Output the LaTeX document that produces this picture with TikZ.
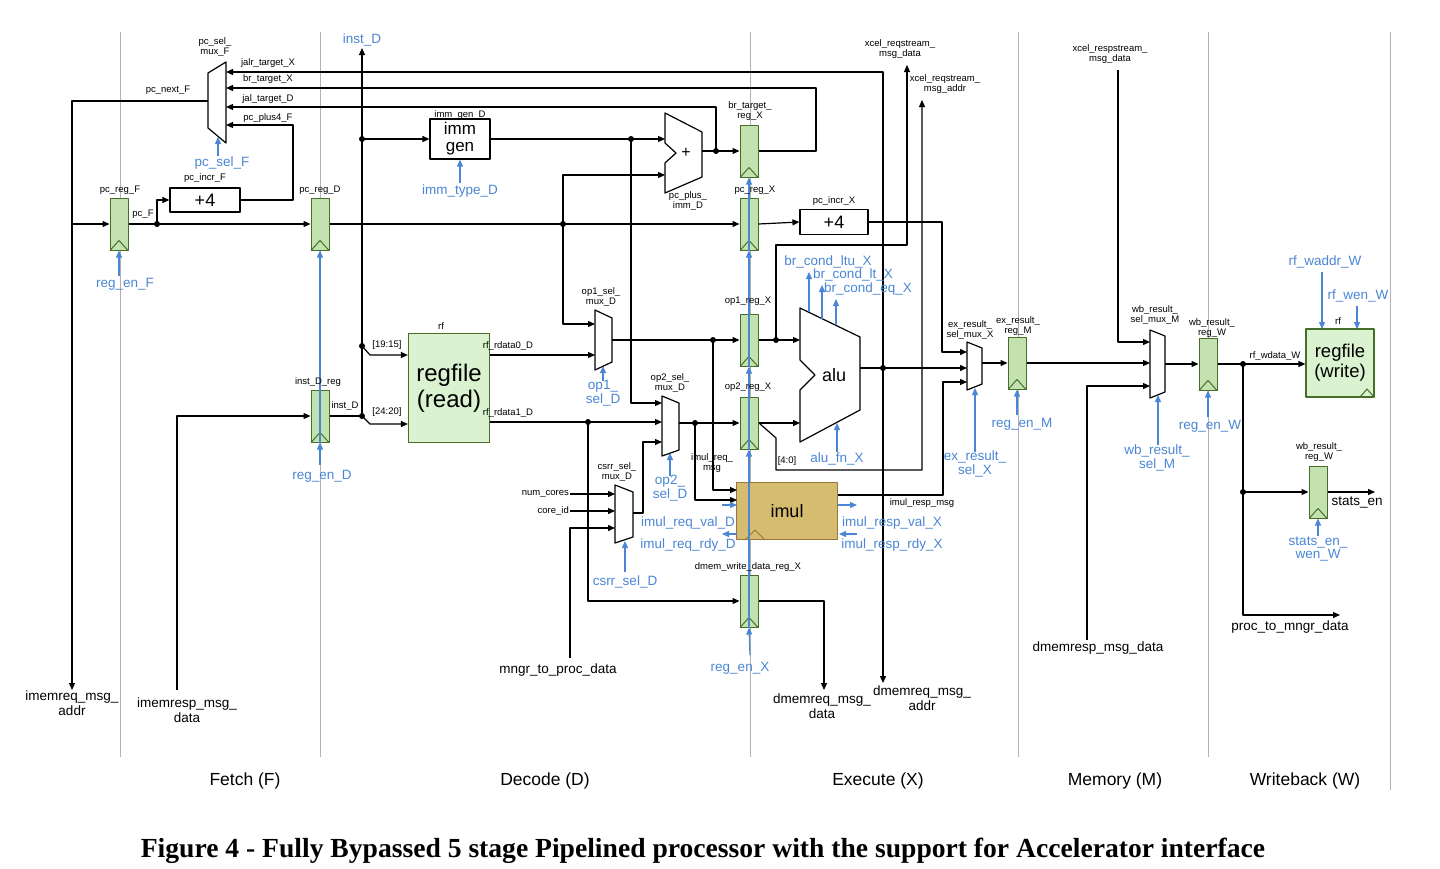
\documentclass[tikz,border=0pt]{standalone}
\usepackage{fontspec}
\setmainfont{Liberation Sans}
\newfontfamily\capfont{Liberation Serif}
\usetikzlibrary{arrows.meta,calc}
\definecolor{bl}{RGB}{74,134,212}
\definecolor{regf}{RGB}{196,226,176}
\definecolor{regd}{RGB}{70,110,40}
\definecolor{rff}{RGB}{218,242,208}
\definecolor{imf}{RGB}{214,188,112}
\definecolor{imd}{RGB}{150,120,60}
\newcommand\clk[1]{\draw[regd,line width=1pt] ([xshift=-9pt]#1.south) -- ([yshift=10pt]#1.south) -- ([xshift=9pt]#1.south);}
\begin{document}
\begin{tikzpicture}[x=1pt,y=-1pt,line join=round]
\tikzset{
 wire/.style={line width=1.2pt},
 wa/.style={wire,-{Triangle[length=7pt,width=6pt]}},
 ctl/.style={bl,line width=1.2pt,-{Triangle[length=7pt,width=6pt]}},
 regbox/.style={draw=regd,fill=regf,line width=1pt,minimum width=18pt,minimum height=52pt,inner sep=0},
 sl/.style={font=\fontsize{9.5}{10}\selectfont,align=center,inner sep=1pt},
 ml/.style={font=\fontsize{13.5}{15}\selectfont,align=center,inner sep=1pt},
 bll/.style={text=bl,font=\fontsize{13.5}{13.5}\selectfont,align=center,inner sep=1pt},
 dot/.style={circle,fill,inner sep=0,minimum size=6pt},
 stage/.style={black!30,line width=0.8pt},
 mux/.style={wire,fill=white},
 boxn/.style={draw,line width=1.2pt,inner sep=0,align=center},
}
\useasboundingbox (0,0) rectangle (1440,868);
% stage lines
\foreach \x in {120,320,750,1018,1208}{\draw[stage] (\x,32) -- (\x,757);}
\draw[stage] (1390,32) -- (1390,790);
\node[font=\fontsize{17.5}{19}\selectfont] at (245,781) {Fetch (F)};
\node[font=\fontsize{17.5}{19}\selectfont] at (545,781) {Decode (D)};
\node[font=\fontsize{17.5}{19}\selectfont] at (878,781) {Execute (X)};
\node[font=\fontsize{17.5}{19}\selectfont] at (1115,781) {Memory (M)};
\node[font=\fontsize{17.5}{19}\selectfont] at (1305,781) {Writeback (W)};
\node[font=\capfont\bfseries\fontsize{27.6}{30}\selectfont] at (703,851) {Figure 4 - Fully Bypassed 5 stage Pipelined processor with the support for Accelerator interface};

% boxes
\node[boxn,minimum width=70pt,minimum height=24pt,font=\fontsize{18}{18}\selectfont] (pcincF) at (205,200) {+4};
\node[boxn,minimum width=60pt,minimum height=40pt,font=\fontsize{17}{17}\selectfont] (immgen) at (460,139) {imm\\gen};
\node[boxn,minimum width=68pt,minimum height=25pt,font=\fontsize{18}{18}\selectfont] (pcincX) at (834,222) {+4};
\node[boxn,draw=regd,fill=rff,minimum width=81pt,minimum height=109pt,font=\fontsize{24}{26}\selectfont] (rfr) at (449,388) {regfile\\(read)};
\node[boxn,draw=regd,fill=rff,minimum width=68pt,minimum height=68pt,font=\fontsize{18.5}{20}\selectfont] (rfw) at (1340,363) {regfile\\(write)};
\draw[regd,line width=1pt] (1360,397) -- (1367,389) -- (1374,397);
\node[boxn,draw=imd,fill=imf,minimum width=101pt,minimum height=57pt,font=\fontsize{18}{18}\selectfont] (imul) at (787,511) {imul};
\draw[imd,line width=1pt] (745,540) -- (755,530) -- (765,540);

% registers
\node[regbox] (pcF) at (119,224) {};
\node[regbox] (pcD) at (320,224) {};
\node[regbox] (instD) at (320,416) {};
\node[regbox] (brX) at (749,151) {};
\node[regbox] (pcX) at (749,224) {};
\node[regbox] (op1X) at (749,340) {};
\node[regbox] (op2X) at (749,423) {};
\node[regbox] (dmemX) at (749,601) {};
\node[regbox] (exM) at (1017,363) {};
\node[regbox] (wbW) at (1208,364) {};
\node[regbox] (statW) at (1318,492) {};
\foreach \r in {pcF,pcD,instD,brX,pcX,op1X,op2X,dmemX,exM,wbW,statW}{\clk{\r}}

% muxes
\draw[mux] (226,62) -- (226,143) -- (208,128) -- (208,73) -- cycle;
\draw[mux] (595,310) -- (612,318) -- (612,362) -- (595,370) -- cycle;
\draw[mux] (662,396) -- (679,403) -- (679,450) -- (662,456) -- cycle;
\draw[mux] (615,485) -- (633,492) -- (633,537) -- (615,543) -- cycle;
\draw[mux] (967,342) -- (982,348) -- (982,384) -- (967,390) -- cycle;
\draw[mux] (1150,330) -- (1165,336) -- (1165,392) -- (1150,398) -- cycle;
\draw[mux] (665,113) -- (702,132) -- (702,177) -- (665,193) -- (665,163) -- (676,153) -- (665,143) -- cycle;
\node[font=\fontsize{16}{16}\selectfont] at (686,153) {+};
\draw[mux] (800,308) -- (860,337) -- (860,410) -- (800,442) -- (800,390) -- (815,375) -- (800,360) -- cycle;
\node[font=\fontsize{18}{18}\selectfont] at (834,375) {alu};

% coordinates / dots
\coordinate (aluo) at (883,368);
\foreach \p in {(157,224),(563,224),(362,139),(362,346),(362,416),(631,139),(716,151),(588,422),(713,340),(776,340),(695,423),(883,368),(1243,364),(1243,492)}{\node[dot] at \p {};}

% fetch wires
\draw[wa] (208,101) -| (72,690);
\draw[wa] (72,224) -- (pcF.west);
\draw[wa] (aluo) -- (883,72) -- (226,72);
\draw[wa] (aluo) -- (883,683);
\draw[wa] (brX.east) -- (816,151) -- (816,88) -- (226,88);
\draw[wa] (716,151) -- (716,107) -- (226,107);
\draw[wa] (pcincF.east) -- (293,200) -- (293,125) -- (226,125);
\draw[wa] (pcF.east) -- (pcD.west);
\draw[wa] (157,224) |- (pcincF.west);
% decode wires
\draw[wa] (pcD.east) -- (pcX.west);
\draw[wa] (563,224) |- (665,175);
\draw[wa] (563,224) |- (595,324);
\draw[wa] (177,690) |- (instD.west);
\draw[wire] (instD.east) -- (362,416);
\draw[wa] (362,416) -- (362,48);
\draw[wa] (362,416) -- (370,424) -- (rfr.west |- 0,424);
\draw[wa] (362,346) -- (370,355) -- (rfr.west |- 0,355);
\draw[wa] (362,139) -- (immgen.west);
\draw[wa] (immgen.east) -- (665,139);
\draw[wa] (631,139) |- (662,403);
\draw[wa] (702,151) -- (brX.west);
\draw[wa] (rfr.east |- 0,355) -- (595,355);
\draw[wa] (rfr.east |- 0,422) -- (662,422);
\draw[wa] (588,422) |- (dmemX.west);
\draw[wa] (633,513) -- (643,513) -- (643,442) -- (662,442);
\draw[wa] (570,494) -- (615,494);
\draw[wa] (570,511) -- (615,511);
\draw[wa] (570,658) -- (570,528) -- (615,528);
% execute wires
\draw[wa] (612,340) -- (op1X.west);
\draw[wa] (713,340) |- (737,490);
\draw[wa] (op1X.east) -- (800,340);
\draw[wa] (776,340) -- (776,245) -- (907,245) -- (907,65);
\draw[wa] (679,423) -- (op2X.west);
\draw[wa] (695,423) |- (737,500);
\draw[wa] (op2X.east) -- (800,423);
\draw[wa] (759,423) -- (776,438) -- (776,470) -- (922,470) -- (922,100);
\draw[wa] (pcX.east) -- (pcincX.west);
\draw[wa] (pcincX.east) -- (942,222) -- (942,352) -- (967,352);
\draw[wa] (860,368) -- (967,368);
\draw[wa] (838,495) -- (943,495) -- (943,382) -- (967,382);
\draw[wa] (dmemX.east) -- (824,601) -- (824,690);
% memory / writeback wires
\draw[wa] (982,363) -- (exM.west);
\draw[wa] (exM.east) -- (1150,363);
\draw[wa] (1118,70) -- (1118,342) -- (1150,342);
\draw[wa] (1087,640) -- (1087,386) -- (1150,386);
\draw[wa] (1165,364) -- (wbW.west);
\draw[wa] (wbW.east) -- (rfw.west |- 0,364);
\draw[wa] (1243,364) -- (1243,615) -- (1340,615);
\draw[wa] (1243,492) -- (statW.west);
\draw[wa] (statW.east) -- (1375,492);

% control (blue)
\draw[ctl] (218,156) -- (218,137);
\draw[ctl] (119,276) -- (pcF.south);
\draw[ctl] (320,465) -- (instD.south);
\draw[ctl] (instD.south) -- (pcD.south);
\draw[ctl] (460,183) -- (immgen.south);
\draw[ctl] (750,655) -- (dmemX.south);
\draw[ctl] (dmemX.south) -- (op2X.south);
\draw[ctl] (op2X.south) -- (op1X.south);
\draw[ctl] (op1X.south) -- (pcX.south);
\draw[ctl] (pcX.south) -- (brX.south);
\draw[ctl] (603,381) -- (603,366);
\draw[ctl] (670,476) -- (670,453);
\draw[ctl] (625,572) -- (625,541);
\draw[ctl] (809,312) -- (809,272);
\draw[ctl] (822,319) -- (822,285);
\draw[ctl] (836,325) -- (836,299);
\draw[ctl] (837,452) -- (837,423);
\draw[ctl] (722,505) -- (737,505);
\draw[ctl] (737,534) -- (722,534);
\draw[ctl] (838,505) -- (857,505);
\draw[ctl] (857,534) -- (839,534);
\draw[ctl] (975,452) -- (975,388);
\draw[ctl] (1017,415) -- (exM.south);
\draw[ctl] (1158,445) -- (1158,395);
\draw[ctl] (1208,417) -- (wbW.south);
\draw[ctl] (1322,272) -- (1322,329);
\draw[ctl] (1357,306) -- (1357,329);
\draw[ctl] (1318,536) -- (statW.south);

% small black labels
\node[sl] at (215,47) {pc\_sel\_\\mux\_F};
\node[sl] at (168,90) {pc\_next\_F};
\node[sl] at (268,63) {jalr\_target\_X};
\node[sl] at (268,79) {br\_target\_X};
\node[sl] at (268,99) {jal\_target\_D};
\node[sl] at (268,118) {pc\_plus4\_F};
\node[sl] at (205,178) {pc\_incr\_F};
\node[sl] at (120,190) {pc\_reg\_F};
\node[sl] at (143,214) {pc\_F};
\node[sl] at (320,190) {pc\_reg\_D};
\node[sl] at (460,115) {imm\_gen\_D};
\node[sl] at (318,382) {inst\_D\_reg};
\node[sl] at (345,406) {inst\_D};
\node[sl] at (387,345) {[19:15]};
\node[sl] at (387,412) {[24:20]};
\node[sl] at (441,326) {rf};
\node[sl] at (508,346) {rf\_rdata0\_D};
\node[sl] at (508,413) {rf\_rdata1\_D};
\node[sl] at (601,297) {op1\_sel\_\\mux\_D};
\node[sl] at (670,383) {op2\_sel\_\\mux\_D};
\node[sl] at (617,472) {csrr\_sel\_\\mux\_D};
\node[sl,anchor=east] at (570,494) {num\_cores};
\node[sl,anchor=east] at (570,511) {core\_id};
\node[sl] at (750,111) {br\_target\_\\reg\_X};
\node[sl] at (688,201) {pc\_plus\_\\imm\_D};
\node[sl] at (755,190) {pc\_reg\_X};
\node[sl] at (834,201) {pc\_incr\_X};
\node[sl] at (748,301) {op1\_reg\_X};
\node[sl] at (748,387) {op2\_reg\_X};
\node[sl] at (712,463) {imul\_req\_\\msg};
\node[sl] at (787,461) {[4:0]};
\node[sl] at (748,567) {dmem\_write\_data\_reg\_X};
\node[sl] at (922,503) {imul\_resp\_msg};
\node[sl] at (900,49) {xcel\_reqstream\_\\msg\_data};
\node[sl] at (945,84) {xcel\_reqstream\_\\msg\_addr};
\node[sl] at (1110,54) {xcel\_respstream\_\\msg\_data};
\node[sl] at (970,330) {ex\_result\_\\sel\_mux\_X};
\node[sl] at (1018,326) {ex\_result\_\\reg\_M};
\node[sl] at (1155,315) {wb\_result\_\\sel\_mux\_M};
\node[sl] at (1212,328) {wb\_result\_\\reg\_W};
\node[sl] at (1275,356) {rf\_wdata\_W};
\node[sl] at (1338,321) {rf};
\node[sl] at (1319,452) {wb\_result\_\\reg\_W};

% medium black labels
\node[ml] at (72,703) {imemreq\_msg\_\\addr};
\node[ml] at (187,710) {imemresp\_msg\_\\data};
\node[ml] at (558,670) {mngr\_to\_proc\_data};
\node[ml] at (822,706) {dmemreq\_msg\_\\data};
\node[ml] at (922,698) {dmemreq\_msg\_\\addr};
\node[ml] at (1098,648) {dmemresp\_msg\_data};
\node[ml] at (1290,627) {proc\_to\_mngr\_data};
\node[ml] at (1357,502) {stats\_en};

% blue labels
\node[bll] at (222,163) {pc\_sel\_F};
\node[bll] at (125,284) {reg\_en\_F};
\node[bll] at (362,40) {inst\_D};
\node[bll] at (460,191) {imm\_type\_D};
\node[bll] at (322,476) {reg\_en\_D};
\node[bll] at (603,393) {op1\_\\sel\_D};
\node[bll] at (670,488) {op2\_\\sel\_D};
\node[bll] at (625,582) {csrr\_sel\_D};
\node[bll] at (688,523) {imul\_req\_val\_D};
\node[bll] at (688,545) {imul\_req\_rdy\_D};
\node[bll] at (892,523) {imul\_resp\_val\_X};
\node[bll] at (892,545) {imul\_resp\_rdy\_X};
\node[bll] at (740,668) {reg\_en\_X};
\node[bll] at (837,459) {alu\_fn\_X};
\node[bll] at (828,262) {br\_cond\_ltu\_X};
\node[bll] at (853,275) {br\_cond\_lt\_X};
\node[bll] at (868,289) {br\_cond\_eq\_X};
\node[bll] at (975,464) {ex\_result\_\\sel\_X};
\node[bll] at (1022,424) {reg\_en\_M};
\node[bll] at (1157,458) {wb\_result\_\\sel\_M};
\node[bll] at (1210,426) {reg\_en\_W};
\node[bll] at (1325,262) {rf\_waddr\_W};
\node[bll] at (1358,296) {rf\_wen\_W};
\node[bll] at (1318,549) {stats\_en\_\\wen\_W};
\end{tikzpicture}
\end{document}
